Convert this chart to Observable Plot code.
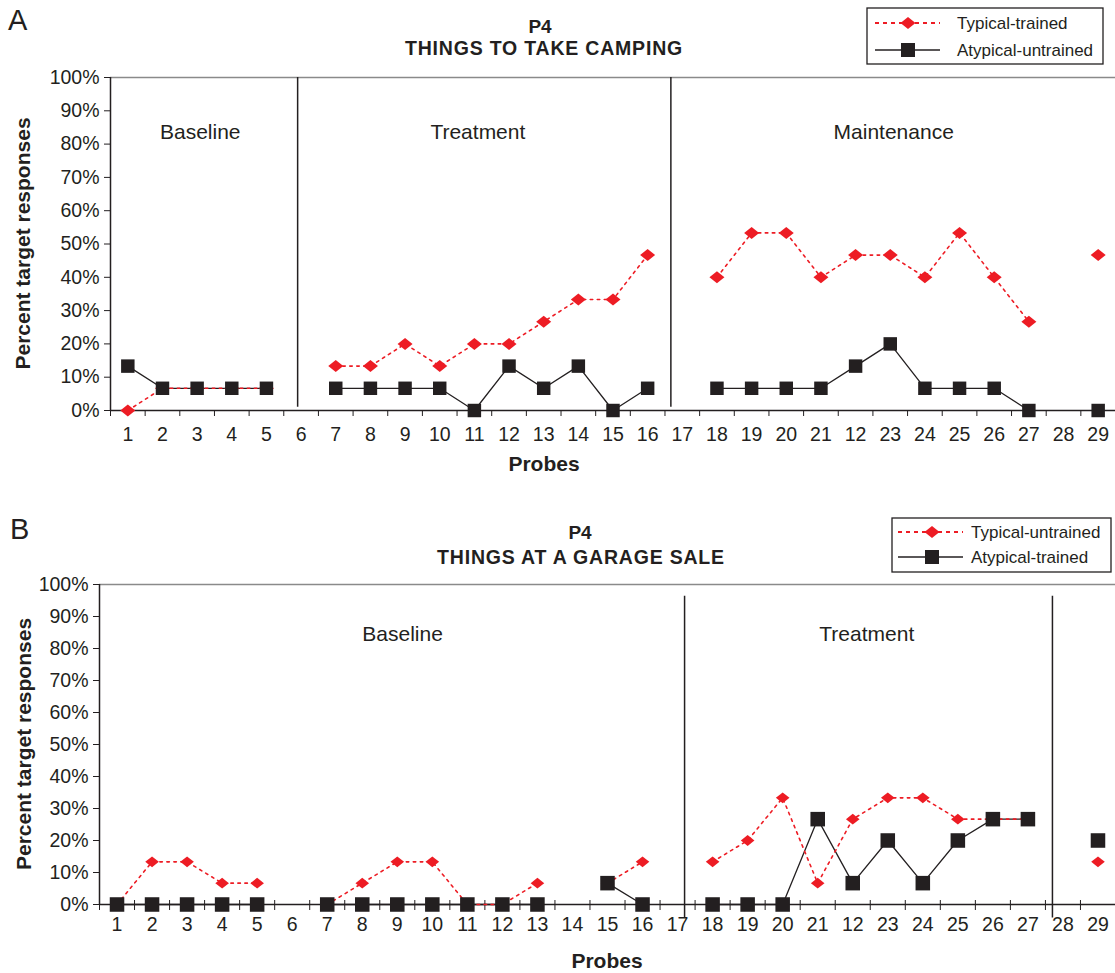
<!DOCTYPE html>
<html>
<head>
<meta charset="utf-8">
<script src="https://cdn.jsdelivr.net/npm/d3@7"></script>
<script src="https://cdn.jsdelivr.net/npm/@observablehq/plot@0.6"></script>
<style>
  html, body { margin: 0; padding: 0; background: #fff; }
  #wrap { position: relative; width: 1115px; height: 973px; background: #fff; overflow: hidden;
          font-family: "Liberation Sans", Arial, sans-serif; color: #231f20; }
  #wrap > svg { position: absolute; left: 0; }
</style>
</head>
<body>
<div id="wrap"></div>
<script>
// ---------- data ----------
const probes = d3.range(1, 30);
const xLabels = ["1","2","3","4","5","6","7","8","9","10","11","12","13","14","15","16","17","18","19","20","21","12","23","24","25","26","27","28","29"];
const yTicks = [0,10,20,30,40,50,60,70,80,90,100];

// Panel A: Things to take camping
const typicalTrainedA   = [0, 6.67, 6.67, 6.67, 6.67, null, 13.33, 13.33, 20, 13.33, 20, 20, 26.67, 33.33, 33.33, 46.67, null, 40, 53.33, 53.33, 40, 46.67, 46.67, 40, 53.33, 40, 26.67, null, 46.67];
const atypicalUntrainedA = [13.33, 6.67, 6.67, 6.67, 6.67, null, 6.67, 6.67, 6.67, 6.67, 0, 13.33, 6.67, 13.33, 0, 6.67, null, 6.67, 6.67, 6.67, 6.67, 13.33, 20, 6.67, 6.67, 6.67, 0, null, 0];
const phaseLinesA = [5.9, 16.67];
const phaseNamesA = ["Baseline", "Treatment", "Maintenance"];
const phaseNamePosA = [3.09, 11.1, 23.1];

// Panel B: Things at a garage sale
const typicalUntrainedB = [0, 13.33, 13.33, 6.67, 6.67, null, 0, 6.67, 13.33, 13.33, 0, 0, 6.67, null, 6.67, 13.33, null, 13.33, 20, 33.33, 6.67, 26.67, 33.33, 33.33, 26.67, 26.67, 26.67, null, 13.33];
const atypicalTrainedB  = [0, 0, 0, 0, 0, null, 0, 0, 0, 0, 0, 0, 0, null, 6.67, 0, null, 0, 0, 0, 26.67, 6.67, 20, 6.67, 20, 26.67, 26.67, null, 20];
const phaseLinesB = [17.2, 27.7];
const phaseNamesB = ["Baseline", "Treatment"];
const phaseNamePosB = [9.15, 22.4];

// ---------- styling ----------
const RED = "#ed1c24", INK = "#231f20";
const FONT = "'Liberation Sans', Arial, sans-serif";
const boundaries = d3.range(0.5, 30, 1);

const wideDiamond = {
  draw(ctx, size) {
    const r = Math.sqrt(size / Math.PI);
    const h = r * 0.8;
    ctx.moveTo(0, -h); ctx.lineTo(r, 0); ctx.lineTo(0, h); ctx.lineTo(-r, 0); ctx.closePath();
  }
};

function panel({typ, atyp, phaseLines, lineY1, lineY2, names, namePos, nameY, height, mt, mb, ml, sq, dm, crossTicks}) {
  const rows = probes.map((p, i) => ({probe: p, typ: typ[i], atyp: atyp[i]}));
  const labels = names.map((n, i) => ({name: n, x: namePos[i]}));
  return Plot.plot({
    width: 1115, height,
    marginTop: mt, marginBottom: mb, marginLeft: ml, marginRight: 0,
    x: {domain: [0.5, 29.5]},
    y: {domain: [0, 100]},
    style: {fontFamily: FONT, fontSize: "19px", color: INK, background: "transparent", overflow: "visible"},
    marks: [
      Plot.ruleY([100], {stroke: "#8a8a8a", strokeWidth: 1.5}),
      Plot.axisY({ticks: yTicks, tickFormat: d => d + "%", tickSize: 6, tickPadding: 5, label: null, fontSize: 19.5, stroke: INK}),
      Plot.ruleX([0.5], {y1: 0, y2: 100, stroke: INK, strokeWidth: 1.5}),
      Plot.axisX({ticks: boundaries, tickFormat: () => "", tickSize: 6, label: null, stroke: INK}),
      ...(crossTicks ? [Plot.axisX({ticks: boundaries, tickFormat: () => "", tickSize: -4, anchor: "bottom", label: null, stroke: INK})] : []),
      Plot.axisX({ticks: probes, tickFormat: d => xLabels[d - 1], tickSize: 0, tickPadding: mb > 72 ? 17 : 13, label: null, fontSize: 19.5}),
      Plot.ruleY([0], {stroke: INK, strokeWidth: 1.5}),
      Plot.ruleX(phaseLines, {y1: lineY1, y2: lineY2, stroke: INK, strokeWidth: 1.5}),
      Plot.text(labels, {x: "x", y: nameY, text: "name", fontSize: 21, fill: INK}),
      Plot.line(rows, {x: "probe", y: "atyp", stroke: INK, strokeWidth: 1.3}),
      Plot.line(rows, {x: "probe", y: "typ", stroke: RED, strokeWidth: 1.6, strokeDasharray: "2.5,4.5"}),
      Plot.dot(rows, {x: "probe", y: "typ", symbol: wideDiamond, r: dm, fill: RED, stroke: "none"}),
      Plot.dot(rows, {x: "probe", y: "atyp", symbol: "square", r: sq, fill: INK, stroke: "none"})
    ]
  });
}

const wrap = document.getElementById("wrap");

const svgA = panel({typ: typicalTrainedA, atyp: atypicalUntrainedA, phaseLines: phaseLinesA, lineY1: 1, lineY2: 100,
  names: phaseNamesA, namePos: phaseNamePosA, nameY: 83.5, height: 486, mt: 77, mb: 76, ml: 110, sq: 7.6, dm: 7.5, crossTicks: false});
svgA.style.top = "0px";
wrap.appendChild(svgA);

const svgB = panel({typ: typicalUntrainedB, atyp: atypicalTrainedB, phaseLines: phaseLinesB, lineY1: -4.2, lineY2: 96.3,
  names: phaseNamesB, namePos: phaseNamePosB, nameY: 84.4, height: 487, mt: 98, mb: 69, ml: 99, sq: 8.2, dm: 6.8, crossTicks: true});
svgB.style.top = "486px";
wrap.appendChild(svgB);

// ---------- annotations: panel letters, titles, axis titles, legends ----------
const NS = "http://www.w3.org/2000/svg";
const ov = document.createElementNS(NS, "svg");
ov.setAttribute("width", 1115); ov.setAttribute("height", 973);
ov.style.top = "0px"; ov.style.fontFamily = FONT;
wrap.appendChild(ov);

function txt(s, x, y, o = {}) {
  const t = document.createElementNS(NS, "text");
  t.textContent = s;
  t.setAttribute("x", x); t.setAttribute("y", y);
  t.setAttribute("fill", INK);
  t.setAttribute("font-size", o.size || 18);
  t.setAttribute("font-weight", o.bold ? "bold" : "normal");
  t.setAttribute("text-anchor", o.anchor || "middle");
  t.setAttribute("dominant-baseline", "central");
  if (o.rotate) t.setAttribute("transform", `rotate(-90 ${x} ${y})`);
  if (o.ls) t.setAttribute("letter-spacing", o.ls);
  ov.appendChild(t);
}
function el(tag, attrs) {
  const e = document.createElementNS(NS, tag);
  for (const k in attrs) e.setAttribute(k, attrs[k]);
  ov.appendChild(e);
  return e;
}
function legend(x0, y0, w, h, rows, lineX0, lineX1, symX, textX) {
  el("rect", {x: x0, y: y0, width: w, height: h, fill: "#fff", stroke: INK, "stroke-width": 1.3});
  rows.forEach(r => {
    if (r.kind === "typ") {
      el("line", {x1: lineX0, x2: lineX1, y1: r.y, y2: r.y, stroke: RED, "stroke-width": 2, "stroke-dasharray": "4,4"});
      el("path", {d: `M${symX},${r.y - 6}L${symX + 7.5},${r.y}L${symX},${r.y + 6}L${symX - 7.5},${r.y}Z`, fill: RED});
    } else {
      el("line", {x1: lineX0, x2: lineX1, y1: r.y, y2: r.y, stroke: INK, "stroke-width": 1.3});
      el("rect", {x: symX - 7, y: r.y - 7, width: 14, height: 14, fill: INK});
    }
    txt(r.label, textX, r.y, {size: 17, anchor: "start"});
  });
}

// Panel A
txt("A", 8, 20, {size: 29, anchor: "start"});
txt("P4", 540, 26, {size: 19, bold: true});
txt("THINGS TO TAKE CAMPING", 544, 48, {size: 19.5, bold: true, ls: "0.8"});
txt("Percent target responses", 22, 243.5, {size: 21, bold: true, rotate: true});
txt("Probes", 544, 463, {size: 21, bold: true});
legend(867, 8, 236, 56, [
  {kind: "typ", label: "Typical-trained", y: 23},
  {kind: "atyp", label: "Atypical-untrained", y: 50}
], 875, 940, 908, 957);

// Panel B
txt("B", 10, 529, {size: 29, anchor: "start"});
txt("P4", 580, 532, {size: 19, bold: true});
txt("THINGS AT A GARAGE SALE", 581, 557, {size: 19.5, bold: true, ls: "0.8"});
txt("Percent target responses", 23, 744, {size: 21, bold: true, rotate: true});
txt("Probes", 607, 960, {size: 21, bold: true});
legend(892, 518, 219, 54, [
  {kind: "typ", label: "Typical-untrained", y: 532},
  {kind: "atyp", label: "Atypical-trained", y: 557}
], 898, 963, 932, 971);
</script>
</body>
</html>
